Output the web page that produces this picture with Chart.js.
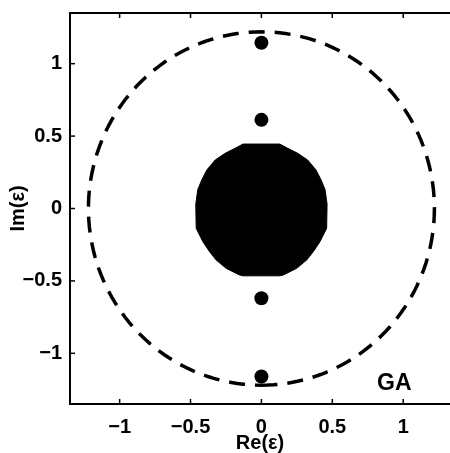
<!DOCTYPE html>
<html>
<head>
<meta charset="utf-8">
<script src="https://cdn.jsdelivr.net/npm/chart.js@4/dist/chart.umd.min.js"></script>
<style>
  html, body { margin: 0; padding: 0; background: #fff; overflow: hidden; }
  #wrap { width: 450px; height: 453px; }
</style>
</head>
<body>
<div id="wrap"><canvas id="poleChart"></canvas></div>
<script>
// pole plot: dashed boundary circle, filled central region, isolated poles

const circleRadius = 1.22;

const poleRe = [0, 0, 0, 0];
const poleIm = [1.145, 0.612, -0.62, -1.16];

// outline of the filled central region (clockwise from top left)
const blobRe = [-0.13, 0.13, 0.185, 0.256, 0.326, 0.385, 0.420, 0.449, 0.463, 0.46,
                0.413, 0.366, 0.319, 0.249, 0.155, 0.13, -0.13, -0.155, -0.249, -0.319,
                -0.366, -0.413, -0.46, -0.463, -0.449, -0.420, -0.385, -0.326, -0.256, -0.185, -0.13];
const blobIm = [0.445, 0.445, 0.416, 0.381, 0.335, 0.266, 0.199, 0.130, 0.03, -0.137,
                -0.229, -0.298, -0.356, -0.413, -0.459, -0.465, -0.465, -0.459, -0.413, -0.356,
                -0.298, -0.229, -0.137, 0.03, 0.130, 0.199, 0.266, 0.335, 0.381, 0.416, 0.445];

const tickValues = [-1, -0.5, 0, 0.5, 1];
const labelText = 'GA';
const labelPos = { re: 0.937, im: -1.212 };

const FONT = { family: 'Liberation Sans', size: 20, weight: 'bold' };

const circlePts = [];
for (let i = 0; i <= 180; i++) {
    const a = -Math.PI / 2 + (i / 180) * 2 * Math.PI;
    circlePts.push({ x: circleRadius * Math.cos(a), y: circleRadius * Math.sin(a) });
}

const blobPts = blobRe.map((x, i) => ({ x: x, y: blobIm[i] }));
const polePts = poleRe.map((x, i) => ({ x: x, y: poleIm[i] }));

function fmtTick(v) {
    if (!tickValues.includes(v)) return '';
    return v < 0 ? '\u2212' + Math.abs(v) : String(v);
}

const frameAndTicks = {
    id: 'frameAndTicks',
    afterDraw(chart) {
        const { ctx, chartArea: a, scales } = chart;
        ctx.save();
        ctx.strokeStyle = '#000';
        ctx.lineWidth = 2;
        // left, bottom, top (right side is cut off in the original)
        ctx.beginPath();
        ctx.moveTo(a.right + 2, a.top);
        ctx.lineTo(a.left, a.top);
        ctx.lineTo(a.left, a.bottom);
        ctx.lineTo(a.right + 2, a.bottom);
        ctx.stroke();
        ctx.lineWidth = 1.5;
        tickValues.forEach(v => {
            const px = scales.x.getPixelForValue(v);
            ctx.beginPath();
            ctx.moveTo(px, a.bottom); ctx.lineTo(px, a.bottom - 5);
            ctx.moveTo(px, a.top); ctx.lineTo(px, a.top + 5);
            ctx.stroke();
            const py = scales.y.getPixelForValue(v);
            ctx.beginPath();
            ctx.moveTo(a.left, py); ctx.lineTo(a.left + 5, py);
            ctx.stroke();
        });
        ctx.fillStyle = '#000';
        ctx.font = 'bold 23px "Liberation Sans"';
        ctx.textAlign = 'center';
        ctx.textBaseline = 'middle';
        ctx.fillText(labelText, scales.x.getPixelForValue(labelPos.re), scales.y.getPixelForValue(labelPos.im));
        ctx.restore();
    }
};

new Chart(document.getElementById('poleChart'), {
    type: 'scatter',
    data: {
        datasets: [
            {
                data: circlePts,
                showLine: true,
                borderColor: '#000',
                borderWidth: 3.5,
                borderDash: [16, 10],
                pointRadius: 0,
                fill: false,
                tension: 0
            },
            {
                data: blobPts,
                showLine: true,
                borderColor: '#000',
                backgroundColor: '#000',
                borderWidth: 1,
                pointRadius: 0,
                fill: 'shape',
                tension: 0
            },
            {
                data: polePts,
                showLine: false,
                pointRadius: 7,
                pointBackgroundColor: '#000',
                pointBorderColor: '#000',
                pointBorderWidth: 0
            }
        ]
    },
    options: {
        responsive: true,
        maintainAspectRatio: false,
        animation: false,
        events: [],
        layout: { autoPadding: false, padding: { top: 13, right: 0, left: 0, bottom: 0 } },
        plugins: { legend: { display: false }, tooltip: { enabled: false } },
        scales: {
            x: {
                type: 'linear',
                min: -1.35,
                max: 1.33,
                afterFit: s => { s.height = 49; s.paddingLeft = 0; s.paddingRight = 0; },
                grid: { display: false, drawTicks: false },
                border: { display: false },
                ticks: {
                    stepSize: 0.5,
                    includeBounds: false,
                    maxRotation: 0,
                    autoSkip: false,
                    padding: 11,
                    color: '#000',
                    font: FONT,
                    callback: fmtTick
                },
                title: {
                    display: true,
                    text: 'Re(\u03b5)',
                    color: '#000',
                    font: FONT,
                    padding: { top: 0, bottom: -2 }
                }
            },
            y: {
                type: 'linear',
                min: -1.35,
                max: 1.35,
                afterFit: s => { s.width = 70; s.paddingTop = 0; s.paddingBottom = 0; },
                grid: { display: false, drawTicks: false },
                border: { display: false },
                ticks: {
                    stepSize: 0.5,
                    includeBounds: false,
                    autoSkip: false,
                    padding: 8,
                    color: '#000',
                    font: FONT,
                    callback: fmtTick
                },
                title: {
                    display: true,
                    text: 'Im(\u03b5)',
                    color: '#000',
                    font: FONT,
                    padding: { top: 6, bottom: 0 }
                }
            }
        }
    },
    plugins: [frameAndTicks]
});
</script>
</body>
</html>
